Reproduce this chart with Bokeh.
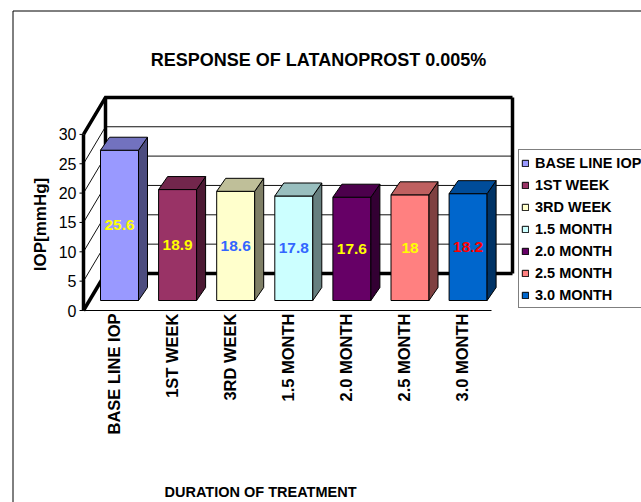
import math
import numpy as np
from bokeh.plotting import figure
from bokeh.models import Range1d, Legend, LegendItem, ColumnDataSource
from bokeh.core.properties import value
from bokeh.embed import file_html
from bokeh.resources import INLINE

# ---------------- data ----------------
categories = ["BASE LINE IOP", "1ST WEEK", "3RD WEEK", "1.5 MONTH",
              "2.0 MONTH", "2.5 MONTH", "3.0 MONTH"]
iop_values = [25.6, 18.9, 18.6, 17.8, 17.6, 18, 18.2]
y_ticks = [0, 5, 10, 15, 20, 25, 30]
bar_colors = ["#9999FF", "#993366", "#FFFFCC", "#CCFFFF",
              "#660066", "#FF8080", "#0066CC"]
label_colors = ["#FFFF00", "#FFFF00", "#3366FF", "#3366FF",
                "#FFFF00", "#FFFF00", "#FF0000"]
title_text = "RESPONSE OF LATANOPROST 0.005%"
y_title = "IOP[mmHg]"
x_title = "DURATION OF TREATMENT"

# ---------------- layout (pixels of the picture) ----------------
W, H = 641, 502
PAGE = 0
ORIG_X, ORIG_Y = 119.0, 300.0   # pixel of bar 0 centre / value 0
PX_X, PX_Y = 58.1, 5.87          # pixels per category step / per mmHg
FONT = "Liberation Sans"


def X(px):
    return (px - ORIG_X) / PX_X


def Y(py):
    return (ORIG_Y - py) / PX_Y


def shade(hexc, f):
    h = hexc.lstrip("#")
    r, g, b = (int(h[i:i + 2], 16) for i in (0, 2, 4))
    return "#%02x%02x%02x" % (int(r * f), int(g * f), int(b * f))


p = figure(width=W, height=H, output_backend="svg", toolbar_location=None,
           x_range=Range1d(X(PAGE), X(PAGE + W)),
           y_range=Range1d(Y(PAGE + H), Y(PAGE)),
           x_axis_location=None, y_axis_location=None,
           min_border=0, tools="")
p.outline_line_color = None
p.xgrid.visible = False
p.ygrid.visible = False
p.background_fill_color = "white"
p.border_fill_color = "white"

# outer chart border (left and top visible)
p.line(x=[X(12.5), X(12.5), X(PAGE + W + 10)],
       y=[Y(PAGE + H + 10), Y(10.5), Y(10.5)], line_color="black", line_width=1)

# ---------------- 3-D box ----------------
F = Y(310)      # front plane offset (value units)
B = Y(273)      # back wall offset
xF, xB, xR, xFR = X(83), X(105), X(512), X(491)
ymax = y_ticks[-1]

grid_xs, grid_ys = [], []
for t in y_ticks[1:-1]:
    grid_xs.append([xB, xR]); grid_ys.append([t + B, t + B])
    grid_xs.append([xF, xB]); grid_ys.append([t + F, t + B])
p.multi_line(xs=grid_xs, ys=grid_ys, line_color="#111111", line_width=1)

# floor front edge
p.line(x=[xF, xFR], y=[F, F], line_color="black", line_width=1)

thick_xs = [[xB, xR], [xR, xR], [xF, xB, xR], [xF, xF], [xF, xB], [xB, xB]]
thick_ys = [[B, B], [B, ymax + B], [ymax + F, ymax + B, ymax + B],
            [F, ymax + F], [F, B], [B, ymax + B]]
p.multi_line(xs=thick_xs, ys=thick_ys, line_color="black", line_width=3.5,
             line_join="miter")

# y ticks + labels (front plane)
p.multi_line(xs=[[X(79), xF] for _ in y_ticks], ys=[[t + F, t + F] for t in y_ticks],
             line_color="black", line_width=1)
p.text(x=[X(76)] * len(y_ticks), y=[t + F for t in y_ticks],
       text=[str(t) for t in y_ticks], text_align="right", text_baseline="middle",
       text_font=value(FONT), text_font_size="16px", text_color="black")

# ---------------- bars ----------------
n = len(categories)
idx = np.arange(n)
vals = np.array(iop_values, dtype=float)
BW = 38 / PX_X
DX = 9 / PX_X
DY = 13 / PX_Y

src = ColumnDataSource(dict(x=idx, top=vals, color=bar_colors, cat=categories))
bars = p.vbar(x="x", top="top", bottom=0, width=BW, source=src,
              fill_color="color", line_color="black", line_width=1)

side_xs = [[i + BW / 2, i + BW / 2 + DX, i + BW / 2 + DX, i + BW / 2] for i in idx]
side_ys = [[0, DY, v + DY, v] for v in vals]
top_xs = [[i - BW / 2, i - BW / 2 + DX, i + BW / 2 + DX, i + BW / 2] for i in idx]
top_ys = [[v, v + DY, v + DY, v] for v in vals]
p.patches(xs=side_xs, ys=side_ys, fill_color=[shade(c, 0.5) for c in bar_colors],
          line_color="black", line_width=1)
p.patches(xs=top_xs, ys=top_ys, fill_color=[shade(c, 0.75) for c in bar_colors],
          line_color="black", line_width=1)

# value labels
p.text(x=idx, y=vals / 2, text=[f"{v:g}" for v in vals], text_color=label_colors,
       text_align="center", text_baseline="middle", text_font=value(FONT),
       text_font_style="bold", text_font_size="15.5px")

# category labels (rotated)
p.text(x=idx - 6 / PX_X, y=[Y(313)] * n, text=categories, angle=math.pi / 2,
       text_align="right", text_baseline="middle", text_font=value(FONT),
       text_font_style="bold", text_font_size="16.5px", text_color="black")

# titles
p.text(x=[X(318)], y=[Y(59)], text=[title_text], text_align="center",
       text_baseline="middle", text_font=value(FONT), text_font_style="bold",
       text_font_size="18px", text_color="black")
p.text(x=[X(40)], y=[Y(224)], text=[y_title], angle=math.pi / 2, text_align="center",
       text_baseline="middle", text_font=value(FONT), text_font_style="bold",
       text_font_size="17px", text_color="black")
p.text(x=[X(260)], y=[Y(491)], text=[x_title], text_align="center",
       text_baseline="middle", text_font=value(FONT), text_font_style="bold",
       text_font_size="14.5px", text_color="black")

# ---------------- legend ----------------
items = [LegendItem(label=c, renderers=[bars], index=i) for i, c in enumerate(categories)]
legend = Legend(items=items, location=(518 - PAGE, PAGE + H - 308),
                border_line_color="black", border_line_width=1,
                background_fill_color="white", background_fill_alpha=1,
                padding=2, spacing=1, margin=0, label_height=21,
                glyph_width=8, glyph_height=8, label_standoff=6,
                label_text_font=FONT, label_text_font_style="bold",
                label_text_font_size="14.5px", label_text_color="black")
p.add_layout(legend)

open("out.html", "w").write(file_html(p, INLINE))
